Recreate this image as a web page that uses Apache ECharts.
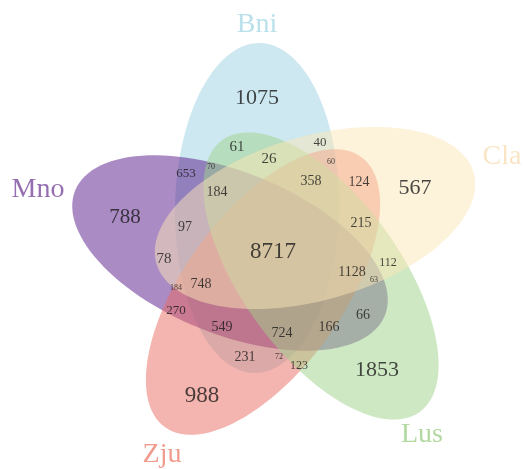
<!DOCTYPE html>
<html>
<head>
<meta charset="utf-8">
<script src="https://cdn.jsdelivr.net/npm/echarts@6/dist/echarts.min.js"></script>
<style>
html, body { margin: 0; padding: 0; background: #fff; }
#chart { width: 527px; height: 469px; }
</style>
</head>
<body>
<div id="chart"></div>
<script>
// set names, in drawing order
var setNames = ['Bni', 'Mno', 'Zju', 'Lus', 'Cla'];

// counts of every region of the diagram
var regionCounts = [
    1075, 567, 788, 988, 1853,
    61, 40, 26, 60, 70, 653, 358, 124, 184, 97, 215,
    8717, 78, 112, 1128, 63, 184, 748, 270, 66,
    549, 166, 724, 231, 72, 123
];

// ---- layout (not data) ----
// ellipses: centre x, centre y, semi axis a, semi axis b, rotation in degrees
var ellipseLayout = [
    [257, 208, 165, 82, 91],
    [230, 253, 167, 81, 22],
    [263, 292, 167, 79, -54],
    [321, 276, 168, 79, 54],
    [315, 218, 165, 82, -16]
];
var ellipseColors = [
    'rgba(155,209,225,0.5)',
    'rgba(88,24,138,0.5)',
    'rgba(233,105,95,0.5)',
    'rgba(159,209,137,0.5)',
    'rgba(251,229,181,0.5)'
];
var nameLayout = [[257, 25], [38, 190], [162, 455], [422, 435], [502, 157]];
var nameColors = ['#a9d9e6', '#7b4a9e', '#ee8273', '#9fd08a', '#f7dfb6'];

// label positions for regionCounts, same order
var countLayout = [
    [257, 98], [415, 188], [125, 217], [202, 396], [377, 370],
    [237, 147], [320, 143], [269, 159], [331, 162], [211, 167], [186, 174], [311, 181], [359, 182], [217, 192], [185, 227], [361, 223],
    [273, 252], [164, 259], [388, 263], [352, 272], [374, 280], [176, 288], [201, 284], [176, 311], [363, 315],
    [222, 327], [329, 327], [282, 333], [245, 357], [279, 357], [299, 366]
];
var countFont = [
    22, 22, 21, 23, 22,
    15, 13, 15, 8, 8, 13, 14, 14, 14, 14, 14,
    23, 15, 12, 14, 8, 8, 14, 13, 14,
    14, 14, 14, 14, 8, 12
];

var chart = echarts.init(document.getElementById('chart'));

var ellipseData = ellipseLayout.map(function (e, i) {
    return { value: e, name: setNames[i] };
});

var countData = regionCounts.map(function (c, i) {
    return {
        value: [countLayout[i][0], countLayout[i][1], c],
        label: { fontSize: countFont[i] }
    };
});

var nameData = setNames.map(function (n, i) {
    return {
        value: [nameLayout[i][0], nameLayout[i][1]],
        name: n,
        label: { color: nameColors[i] }
    };
});

function renderEllipse(params, api) {
    var cx = api.value(0), cy = api.value(1);
    var a = api.value(2), b = api.value(3);
    var th = api.value(4) * Math.PI / 180;
    var pts = [];
    for (var k = 0; k < 120; k++) {
        var t = k / 120 * Math.PI * 2;
        var x = cx + a * Math.cos(t) * Math.cos(th) - b * Math.sin(t) * Math.sin(th);
        var y = cy + a * Math.cos(t) * Math.sin(th) + b * Math.sin(t) * Math.cos(th);
        pts.push(api.coord([x, y]));
    }
    return {
        type: 'polygon',
        shape: { points: pts },
        style: { fill: ellipseColors[params.dataIndex], stroke: null }
    };
}

var option = {
    animation: false,
    backgroundColor: '#fff',
    grid: { left: 0, right: 0, top: 0, bottom: 0 },
    xAxis: { type: 'value', min: 0, max: 527, show: false },
    yAxis: { type: 'value', min: 0, max: 469, inverse: true, show: false },
    series: [
        {
            type: 'custom',
            renderItem: renderEllipse,
            data: ellipseData,
            silent: true,
            z: 1
        },
        {
            type: 'scatter',
            data: countData,
            symbolSize: 1,
            itemStyle: { color: 'transparent' },
            silent: true,
            z: 3,
            label: {
                show: true,
                position: 'inside',
                fontFamily: 'Liberation Serif',
                color: '#1a1a1a',
                formatter: function (p) { return p.value[2]; }
            }
        },
        {
            type: 'scatter',
            data: nameData,
            symbolSize: 1,
            itemStyle: { color: 'transparent' },
            silent: true,
            z: 3,
            label: {
                show: true,
                position: 'inside',
                fontFamily: 'Liberation Serif',
                fontSize: 28,
                formatter: '{b}'
            }
        }
    ]
};

chart.setOption(option);
</script>
</body>
</html>
